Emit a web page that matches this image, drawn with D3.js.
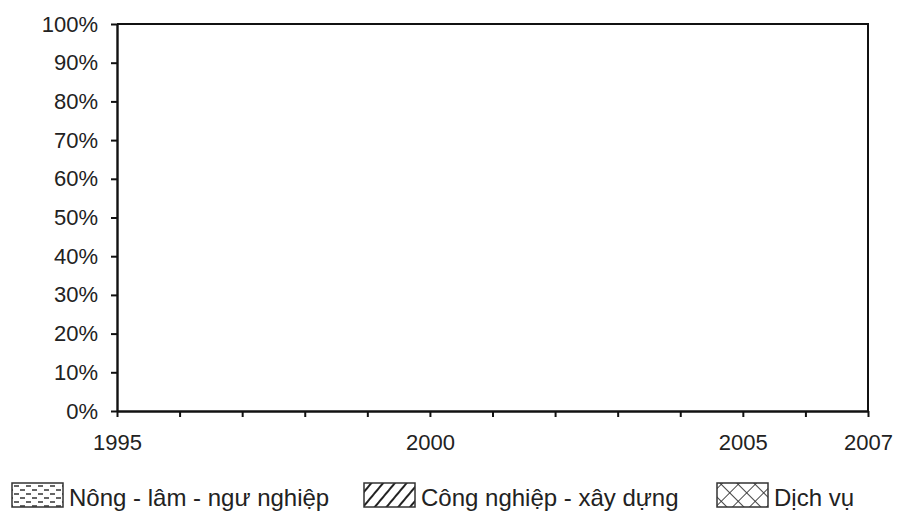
<!DOCTYPE html>
<html>
<head>
<meta charset="utf-8">
<script src="https://cdn.jsdelivr.net/npm/d3@7"></script>
<style>
  html, body { margin: 0; padding: 0; background: #fff; }
  svg { display: block; font-family: "Liberation Sans", Arial, Helvetica, sans-serif; }
</style>
</head>
<body>
<svg id="chart" width="897" height="512"></svg>
<script>
// ---- data ----
const years = [1995, 1996, 1997, 1998, 1999, 2000, 2001, 2002, 2003, 2004, 2005, 2006, 2007];
const labeledYears = [1995, 2000, 2005, 2007];
const yTicks = [0, 10, 20, 30, 40, 50, 60, 70, 80, 90, 100];
const categories = ["Nông - lâm - ngư nghiệp", "Công nghiệp - xây dựng", "Dịch vụ"];
const patterns = ["dash", "diag", "cross"];
const legendX = [12, 364, 717];

// ---- layout ----
const svg = d3.select("#chart");
const margin = { left: 117, right: 29, top: 24, bottom: 101 };
const W = 897, H = 512;
const x = d3.scaleLinear().domain([d3.min(years), d3.max(years)]).range([margin.left, W - margin.right]);
const y = d3.scaleLinear().domain([0, 100]).range([H - margin.bottom, margin.top]);

const ink = "#111";
const textCol = "#222";

// patterns
const defs = svg.append("defs");
const p1 = defs.append("pattern").attr("id", "dash").attr("patternUnits", "userSpaceOnUse")
  .attr("width", 12).attr("height", 8).attr("x", 13).attr("y", 484);
p1.append("rect").attr("width", 12).attr("height", 8).attr("fill", "#fff");
p1.append("line").attr("x1", 1).attr("x2", 6).attr("y1", 2).attr("y2", 2).attr("stroke", "#333").attr("stroke-width", 1.5);
p1.append("line").attr("x1", 7).attr("x2", 12).attr("y1", 6).attr("y2", 6).attr("stroke", "#333").attr("stroke-width", 1.5);

const p2 = defs.append("pattern").attr("id", "diag").attr("patternUnits", "userSpaceOnUse")
  .attr("width", 9).attr("height", 9).attr("patternTransform", "rotate(40)");
p2.append("rect").attr("width", 9).attr("height", 9).attr("fill", "#fff");
p2.append("line").attr("x1", 0).attr("x2", 0).attr("y1", 0).attr("y2", 9).attr("stroke", "#222").attr("stroke-width", 4);

const p3 = defs.append("pattern").attr("id", "cross").attr("patternUnits", "userSpaceOnUse")
  .attr("width", 12).attr("height", 12).attr("patternTransform", "rotate(45)");
p3.append("rect").attr("width", 12).attr("height", 12).attr("fill", "#fff");
p3.append("line").attr("x1", 0).attr("x2", 12).attr("y1", 0).attr("y2", 0).attr("stroke", "#333").attr("stroke-width", 1.8);
p3.append("line").attr("x1", 0).attr("x2", 0).attr("y1", 0).attr("y2", 12).attr("stroke", "#333").attr("stroke-width", 1.8);

// frame (top + right)
svg.append("path")
  .attr("d", `M${x(d3.min(years))},${y(100)}H${x(d3.max(years))}V${y(0)}`)
  .attr("fill", "none").attr("stroke", ink).attr("stroke-width", 2);

// y axis
const yAxis = svg.append("g").attr("transform", `translate(${margin.left},0)`)
  .call(d3.axisLeft(y).tickValues(yTicks).tickFormat(d => d + "%").tickSize(6).tickPadding(13).tickSizeOuter(0));
yAxis.select(".domain").attr("stroke", ink).attr("stroke-width", 2.4);
yAxis.selectAll(".tick line").attr("stroke", ink).attr("stroke-width", 2);
yAxis.selectAll("text").attr("font-size", 22).attr("fill", textCol).attr("font-family", "Liberation Sans, Arial, sans-serif");

// x axis
const xAxis = svg.append("g").attr("transform", `translate(0,${y(0)})`)
  .call(d3.axisBottom(x).tickValues(years).tickFormat(d => labeledYears.includes(d) ? d : "").tickSize(6).tickPadding(17).tickSizeOuter(0));
xAxis.select(".domain").attr("stroke", ink).attr("stroke-width", 2.4);
xAxis.selectAll(".tick line").attr("stroke", ink).attr("stroke-width", 2);
xAxis.selectAll("text").attr("font-size", 22).attr("fill", textCol).attr("font-family", "Liberation Sans, Arial, sans-serif");

// legend
const leg = svg.append("g");
categories.forEach((c, i) => {
  leg.append("rect").attr("x", legendX[i]).attr("y", 483).attr("width", 51).attr("height", 24)
    .attr("fill", `url(#${patterns[i]})`).attr("stroke", "#333").attr("stroke-width", 1.5);
  leg.append("text").attr("x", legendX[i] + 57).attr("y", 506).attr("font-size", 24)
    .attr("fill", textCol).text(c);
});
</script>
</body>
</html>
